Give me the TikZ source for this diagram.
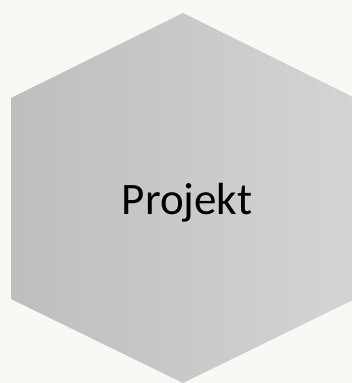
\documentclass[tikz,border=0pt]{standalone}
\usepackage{fontspec}
\setmainfont{Carlito}
\definecolor{bgpaper}{RGB}{248,249,245}
\definecolor{hexleft}{RGB}{190,190,190}
\definecolor{hexright}{RGB}{212,212,212}
\begin{document}
\begin{tikzpicture}[x=1pt,y=1pt]
\fill[bgpaper] (0,0) rectangle (352,383);
\useasboundingbox (0,0) rectangle (352,383);
\shade[left color=hexleft,right color=hexright]
  (183,370)--(355,285)--(355,84)--(183,0)--(11,84)--(11,285)--cycle;
\node (proj) at (187,180) {\fontsize{45}{54}\selectfont Projekt};
\end{tikzpicture}
\end{document}
